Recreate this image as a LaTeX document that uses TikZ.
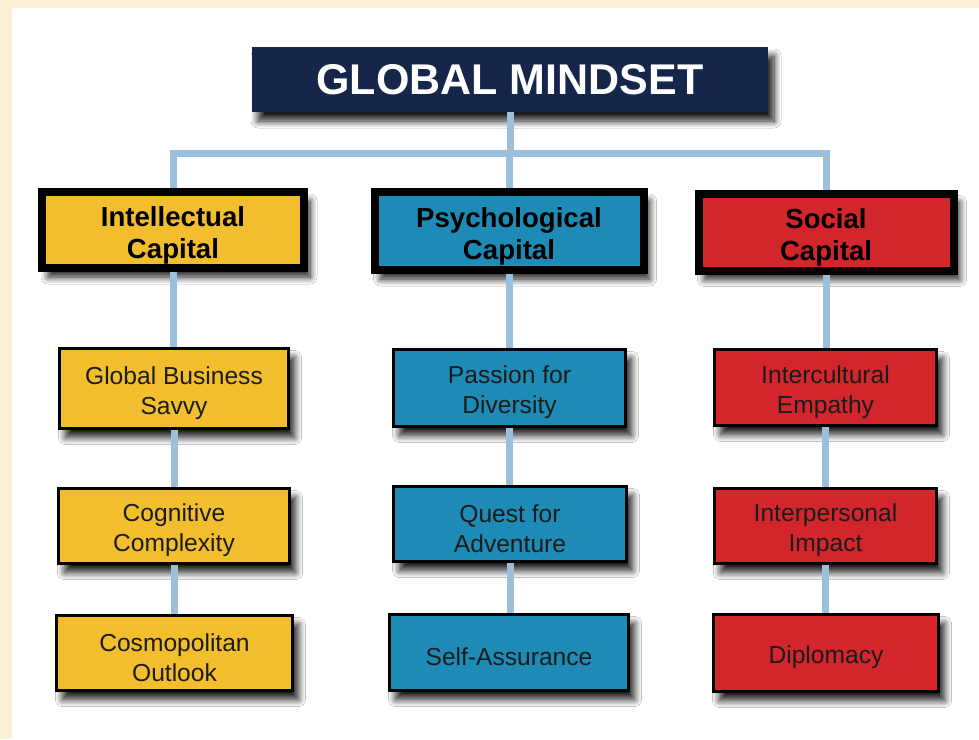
\documentclass[tikz,border=0pt]{standalone}
\usepackage{fontspec}
\setmainfont{Liberation Sans}
\usetikzlibrary{shadows.blur}
\definecolor{cream}{HTML}{FEF0D4}
\definecolor{navy}{HTML}{16264A}
\definecolor{capyellow}{HTML}{F2BE2E}
\definecolor{capblue}{HTML}{1E8BB6}
\definecolor{capred}{HTML}{D3252C}
\definecolor{connblue}{HTML}{9CC0DB}
\definecolor{txtdark}{HTML}{1C1C1C}
\newcommand\capup{\rule{0pt}{30pt}}
\newcommand\itemup{\rule{0pt}{27pt}}
\tikzset{
  shad/.style={blur shadow={shadow xshift=6pt, shadow yshift=-9pt, shadow blur radius=7pt, shadow opacity=90, shadow blur steps=12}},
  titlebox/.style={shad, fill=navy, draw=none, inner sep=0pt, align=center, text=white,
     font=\fontsize{43}{46}\selectfont\bfseries},
  capbox/.style={shad, draw=black, line width=8pt, inner sep=0pt, align=center, text=black,
     font=\fontsize{27.6}{32}\selectfont\bfseries},
  itembox/.style={shad, draw=black, line width=3pt, inner sep=0pt, align=center, text=txtdark,
     font=\fontsize{24.6}{30}\selectfont},
  conn/.style={draw=connblue, line width=7pt, line join=miter, line cap=butt}
}
\begin{document}
\begin{tikzpicture}[x=1pt,y=-1pt]
\useasboundingbox (0,0) rectangle (979,739);
\fill[cream] (0,0) rectangle (979,739);
\fill[white] (12,8) rectangle (979,739);

% title
\node[titlebox, minimum width=516pt, minimum height=65pt] (title) at (510,79.5) {GLOBAL MINDSET};

% capitals (outer size minus border width)
\node[capbox, fill=capyellow, minimum width=262pt, minimum height=76pt] (intel) at (173,230) {\capup Intellectual\\Capital};
\node[capbox, fill=capblue, minimum width=269pt, minimum height=78pt] (psych) at (509,231) {\capup Psychological\\Capital};
\node[capbox, fill=capred, minimum width=255pt, minimum height=77pt] (social) at (826,232) {\capup Social\\Capital};

% items
\node[itembox, fill=capyellow, minimum width=229pt, minimum height=80pt] (gbs) at (174,388.5) {\itemup Global Business\\Savvy};
\node[itembox, fill=capyellow, minimum width=231pt, minimum height=75pt] (cog) at (174,526) {\itemup Cognitive\\Complexity};
\node[itembox, fill=capyellow, minimum width=236pt, minimum height=75pt] (cosmo) at (174.5,653) {\itemup Cosmopolitan\\Outlook};

\node[itembox, fill=capblue, minimum width=232pt, minimum height=77pt] (passion) at (509.5,388) {\itemup Passion for\\Diversity};
\node[itembox, fill=capblue, minimum width=233pt, minimum height=75pt] (quest) at (510,524) {\itemup Quest for\\Adventure};
\node[itembox, fill=capblue, minimum width=239pt, minimum height=76pt] (selfa) at (509,652.5) {\itemup Self-Assurance};

\node[itembox, fill=capred, minimum width=222pt, minimum height=76pt] (empathy) at (825.5,387.5) {\itemup Intercultural\\Empathy};
\node[itembox, fill=capred, minimum width=222pt, minimum height=75pt] (impact) at (825.5,526) {\itemup Interpersonal\\Impact};
\node[itembox, fill=capred, minimum width=225pt, minimum height=77pt] (diplo) at (826,653) {\itemup Diplomacy};

% connectors
\coordinate (bar) at (510,153);
\draw[conn] (intel.north) -- (intel.north |- bar) -- (social.north |- bar) -- (social.north);
\draw[conn] (title.south) -- (title.south |- bar);
\draw[conn] (psych.north |- bar) -- (psych.north);

\draw[conn] (intel.south) -- (intel.south |- gbs.north);
\draw[conn] (gbs.south) -- (gbs.south |- cog.north);
\draw[conn] (cog.south) -- (cog.south |- cosmo.north);

\draw[conn] (psych.south) -- (psych.south |- passion.north);
\draw[conn] (passion.south) -- (passion.south |- quest.north);
\draw[conn] (quest.south) -- (quest.south |- selfa.north);

\draw[conn] (social.south) -- (social.south |- empathy.north);
\draw[conn] (empathy.south) -- (empathy.south |- impact.north);
\draw[conn] (impact.south) -- (impact.south |- diplo.north);
\end{tikzpicture}
\end{document}
